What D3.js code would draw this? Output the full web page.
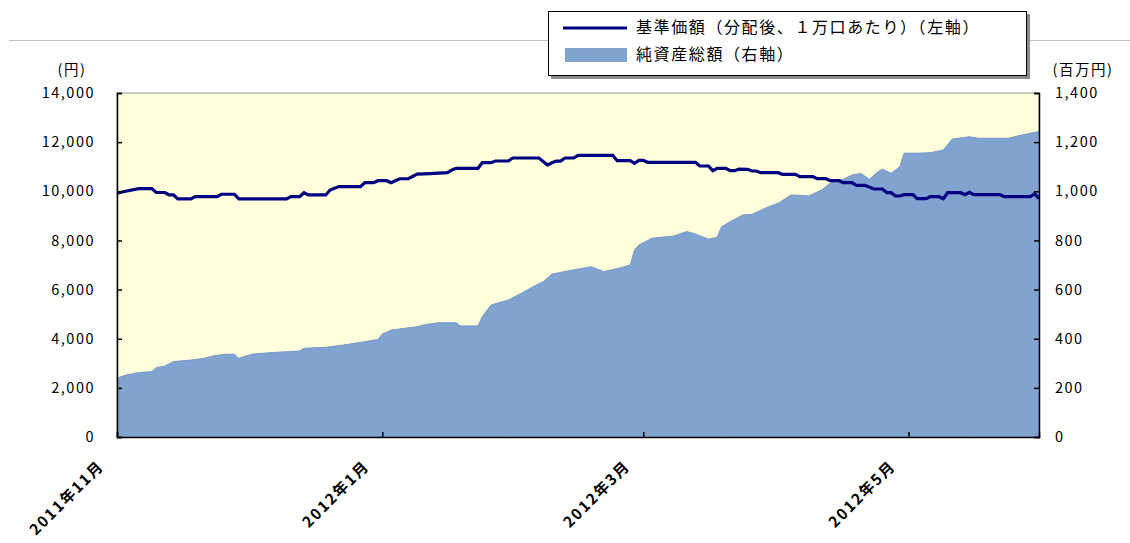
<!DOCTYPE html>
<html lang="ja">
<head>
<meta charset="utf-8">
<title>基準価額・純資産総額の推移</title>
<style>
	body{
		margin: 0;
		padding: 0;
		background: #fff;
		font-family: "Noto Sans CJK JP", sans-serif;
	}
	svg text{
		fill: #000;
	}
	.tick-label{
		font-size: 14.5px;
		letter-spacing: 1.5px;
	}
	.month-label{
		font-size: 15px;
		font-weight: 600;
		letter-spacing: 1.8px;
	}
	.legend-text{
		font-size: 16px;
		letter-spacing: 1.6px;
	}
</style>
</head>
<body>
<svg id="chart" width="1130" height="543"></svg>
<script src="https://cdnjs.cloudflare.com/ajax/libs/d3/7.8.5/d3.min.js"></script>
<script>
// 基準価額（分配後、1万口あたり） 円, left axis
var navDates = ["2011-11-01","2011-11-03","2011-11-06","2011-11-09","2011-11-10","2011-11-12","2011-11-13","2011-11-14",
	"2011-11-15","2011-11-18","2011-11-19","2011-11-24","2011-11-25","2011-11-28","2011-11-29","2011-12-10",
	"2011-12-11","2011-12-13","2011-12-14","2011-12-15","2011-12-19","2011-12-20","2011-12-22","2011-12-27",
	"2011-12-28","2011-12-30","2011-12-31","2012-01-02","2012-01-03","2012-01-04","2012-01-05","2012-01-07",
	"2012-01-09","2012-01-12","2012-01-16","2012-01-17","2012-01-18","2012-01-23","2012-01-24","2012-01-26",
	"2012-01-27","2012-01-30","2012-01-31","2012-02-06","2012-02-08","2012-02-09","2012-02-10","2012-02-11",
	"2012-02-12","2012-02-14","2012-02-15","2012-02-23","2012-02-24","2012-02-27","2012-02-28","2012-02-29",
	"2012-03-01","2012-03-02","2012-03-13","2012-03-14","2012-03-16","2012-03-17","2012-03-18","2012-03-20",
	"2012-03-21","2012-03-22","2012-03-23","2012-03-25","2012-03-26","2012-03-27","2012-03-28","2012-04-01",
	"2012-04-02","2012-04-05","2012-04-06","2012-04-09","2012-04-10","2012-04-12","2012-04-13","2012-04-15",
	"2012-04-16","2012-04-18","2012-04-19","2012-04-21","2012-04-23","2012-04-25","2012-04-26","2012-04-27",
	"2012-04-28","2012-04-29","2012-04-30","2012-05-02","2012-05-03","2012-05-05","2012-05-06","2012-05-08",
	"2012-05-09","2012-05-10","2012-05-13","2012-05-14","2012-05-15","2012-05-16","2012-05-22","2012-05-23",
	"2012-05-29","2012-05-30","2012-05-31"];
var navValues = [9920,10000,10110,10110,9950,9950,9850,9850,
	9690,9690,9780,9780,9880,9880,9690,9690,
	9780,9780,9940,9850,9850,10050,10190,10190,
	10350,10350,10430,10430,10350,10430,10510,10510,
	10700,10720,10760,10870,10935,10935,11165,11165,
	11233,11233,11355,11355,11070,11160,11230,11230,
	11355,11355,11465,11465,11245,11245,11140,11260,
	11260,11180,11180,11030,11030,10840,10935,10935,
	10840,10840,10900,10895,10825,10825,10757,10757,
	10690,10690,10595,10595,10513,10513,10430,10430,
	10350,10350,10243,10243,10094,10094,9943,9943,
	9809,9809,9862,9862,9700,9700,9780,9780,
	9700,9943,9943,9860,9960,9862,9862,9780,
	9780,9900,9700];

// 純資産総額 百万円, right axis
var assetDates = ["2011-11-01","2011-11-03","2011-11-06","2011-11-09","2011-11-10","2011-11-12","2011-11-14","2011-11-18",
	"2011-11-21","2011-11-23","2011-11-26","2011-11-28","2011-11-29","2011-12-02","2011-12-06","2011-12-13",
	"2011-12-14","2011-12-19","2011-12-23","2011-12-28","2011-12-31","2012-01-01","2012-01-03","2012-01-06",
	"2012-01-09","2012-01-11","2012-01-14","2012-01-18","2012-01-19","2012-01-23","2012-01-24","2012-01-26",
	"2012-01-30","2012-02-02","2012-02-05","2012-02-07","2012-02-09","2012-02-13","2012-02-18","2012-02-21",
	"2012-02-25","2012-02-27","2012-02-28","2012-02-29","2012-03-03","2012-03-08","2012-03-11","2012-03-13",
	"2012-03-16","2012-03-18","2012-03-19","2012-03-22","2012-03-24","2012-03-26","2012-03-29","2012-04-01",
	"2012-04-04","2012-04-08","2012-04-11","2012-04-13","2012-04-16","2012-04-18","2012-04-20","2012-04-22",
	"2012-04-24","2012-04-25","2012-04-27","2012-04-29","2012-04-30","2012-05-03","2012-05-06","2012-05-09",
	"2012-05-11","2012-05-15","2012-05-17","2012-05-24","2012-05-27","2012-05-31"];
var assetValues = [239,252,262,266,282,289,307,313,
	320,330,337,337,320,337,343,350,
	361,365,374,388,397,419,435,442,
	449,458,465,465,452,452,490,537,
	558,585,615,632,663,677,693,673,
	690,700,761,781,809,818,836,826,
	805,813,856,886,904,906,931,951,
	985,981,1005,1033,1049,1066,1073,1049,
	1080,1090,1073,1100,1155,1155,1157,1168,
	1212,1222,1216,1216,1229,1243];

var leftTicks = [0, 2000, 4000, 6000, 8000, 10000, 12000, 14000];
var rightTicks = [0, 200, 400, 600, 800, 1000, 1200, 1400];
var monthTicks = ["2011-11-01", "2012-01-01", "2012-03-01", "2012-05-01"];
var monthLabels = ["2011年11月", "2012年1月", "2012年3月", "2012年5月"];
var legendLabels = ["基準価額（分配後、１万口あたり）（左軸）", "純資産総額（右軸）"];

var svg = d3.select('#chart'),
	parse = d3.timeParse('%Y-%m-%d'),
	plotL = 117, plotR = 1039, plotT = 93, plotB = 437;

function init() {
	var nav = navDates.map(function (d, i) { return {date: parse(d), value: navValues[i]}; }),
		asset = assetDates.map(function (d, i) { return {date: parse(d), value: assetValues[i]}; }),
		fmt = d3.format(',');

	var x = d3.scaleTime()
		.domain([parse('2011-11-01'), parse('2012-05-31')])
		.range([plotL, plotR]);
	var yLeft = d3.scaleLinear().domain([0, 14000]).range([plotB, plotT]);
	var yRight = d3.scaleLinear().domain([0, 1400]).range([plotB, plotT]);

	// thin rule across the top
	svg.append('line')
		.attr('x1', 9).attr('x2', 1130)
		.attr('y1', 40.5).attr('y2', 40.5)
		.attr('stroke', '#c0c0c0').attr('stroke-width', 1);

	svg.append('clipPath').attr('id', 'plotClip')
		.append('rect')
		.attr('x', plotL).attr('y', plotT)
		.attr('width', plotR - plotL).attr('height', plotB - plotT);

	// plot background
	svg.append('rect')
		.attr('x', plotL).attr('y', plotT)
		.attr('width', plotR - plotL).attr('height', plotB - plotT)
		.attr('fill', '#ffffdc')
		.attr('stroke', '#9a9a9a')
		.attr('stroke-width', 1);

	var area = d3.area()
		.x(function (d) { return x(d.date); })
		.y0(plotB)
		.y1(function (d) { return yRight(d.value); });

	svg.append('path')
		.datum(asset)
		.attr('clip-path', 'url(#plotClip)')
		.attr('d', area)
		.attr('fill', '#80a3d0')
		.attr('stroke', '#7499cb')
		.attr('stroke-width', 1);

	var line = d3.line()
		.x(function (d) { return x(d.date); })
		.y(function (d) { return yLeft(d.value); });

	svg.append('path')
		.datum(nav)
		.attr('d', line)
		.attr('fill', 'none')
		.attr('stroke', '#000080')
		.attr('stroke-width', 3.2);

	// axes, ticks pointing into the plot
	var gl = svg.append('g')
		.attr('transform', 'translate(' + plotL + ',0)')
		.call(d3.axisLeft(yLeft).tickValues(leftTicks).tickSize(-5).tickPadding(22).tickFormat(fmt));
	var gr = svg.append('g')
		.attr('transform', 'translate(' + plotR + ',0)')
		.call(d3.axisRight(yRight).tickValues(rightTicks).tickSize(-5).tickPadding(16).tickFormat(fmt));
	var gb = svg.append('g')
		.attr('transform', 'translate(0,' + plotB + ')')
		.call(d3.axisBottom(x).tickValues(monthTicks.map(parse)).tickSize(-5).tickFormat(''));

	[gl, gr, gb].forEach(function (g) {
		g.attr('font-family', null).attr('font-size', null);
		g.select('.domain').attr('stroke', '#000').attr('stroke-width', 1.5);
		g.selectAll('.tick line').attr('stroke', '#000').attr('stroke-width', 1.5);
		g.selectAll('.tick text').attr('class', 'tick-label');
	});

	// rotated month labels
	svg.append('g').selectAll('text')
		.data(monthTicks)
		.enter().append('text')
		.attr('class', 'month-label')
		.attr('text-anchor', 'end')
		.attr('transform', function (d) {
			return 'translate(' + (x(parse(d)) - 12) + ',' + (plotB + 30) + ') rotate(-45)';
		})
		.text(function (d, i) { return monthLabels[i]; });

	// unit captions
	svg.append('text').attr('class', 'tick-label')
		.attr('x', 72).attr('y', 75).attr('text-anchor', 'middle')
		.text('(円)');
	svg.append('text').attr('class', 'tick-label')
		.attr('x', 1083).attr('y', 75).attr('text-anchor', 'middle')
		.text('(百万円)');

	addLegend();
}

function addLegend() {
	var lg = svg.append('g');

	lg.append('rect')
		.attr('x', 551).attr('y', 14)
		.attr('width', 479).attr('height', 65)
		.attr('fill', '#8c8c8c');
	lg.append('rect')
		.attr('x', 548.5).attr('y', 11.5)
		.attr('width', 478).attr('height', 64)
		.attr('fill', '#fff')
		.attr('stroke', '#000')
		.attr('stroke-width', 1);

	lg.append('line')
		.attr('x1', 563).attr('x2', 627)
		.attr('y1', 28).attr('y2', 28)
		.attr('stroke', '#000080')
		.attr('stroke-width', 3);
	lg.append('rect')
		.attr('x', 565).attr('y', 48)
		.attr('width', 62).attr('height', 14)
		.attr('fill', '#80a3d0');

	lg.selectAll('text.legend-text')
		.data(legendLabels)
		.enter().append('text')
		.attr('class', 'legend-text')
		.attr('x', 636)
		.attr('y', function (d, i) { return 33 + i * 27; })
		.text(function (d) { return d; });
}

init();
</script>
</body>
</html>
